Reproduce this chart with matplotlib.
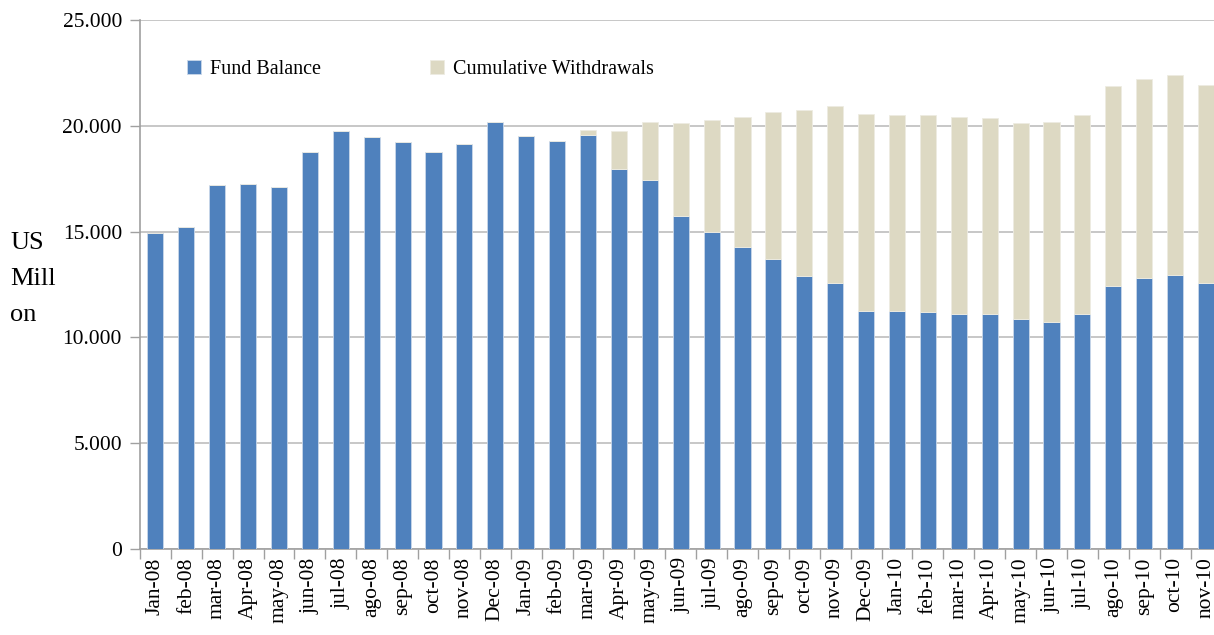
import matplotlib
matplotlib.use("Agg")
import matplotlib.pyplot as plt
import numpy as np
from matplotlib.ticker import FuncFormatter, FixedLocator

months = ["Jan-08", "feb-08", "mar-08", "Apr-08", "may-08", "jun-08", "jul-08", "ago-08",
          "sep-08", "oct-08", "nov-08", "Dec-08", "Jan-09", "feb-09", "mar-09", "Apr-09",
          "may-09", "jun-09", "jul-09", "ago-09", "sep-09", "oct-09", "nov-09", "Dec-09",
          "Jan-10", "feb-10", "mar-10", "Apr-10", "may-10", "jun-10", "jul-10", "ago-10",
          "sep-10", "oct-10", "nov-10"]

fund_balance = [14950, 15200, 17200, 17260, 17110, 18780, 19750, 19460,
                19230, 18780, 19140, 20190, 19500, 19300, 19580, 17960,
                17440, 15750, 15000, 14250, 13690, 12890, 12590, 11250,
                11250, 11180, 11100, 11100, 10890, 10740, 11100, 12440,
                12810, 12950, 12590]

totals = [14950, 15200, 17200, 17260, 17110, 18780, 19750, 19460,
          19230, 18780, 19140, 20190, 19500, 19300, 19820, 19740,
          20190, 20130, 20270, 20420, 20650, 20730, 20950, 20570,
          20500, 20500, 20420, 20350, 20130, 20190, 20500, 21870,
          22230, 22390, 21940]

cum_withdrawals = [t - f for t, f in zip(totals, fund_balance)]

plt.rcParams['font.family'] = ['Liberation Serif', 'DejaVu Serif']

fig = plt.figure(figsize=(12.14, 6.35), dpi=100)
ax = fig.add_axes([140/1214, 86/635, (1214-140)/1214, 529/635])

x = np.arange(len(months))
blue = "#4F81BD"
beige = "#DDD9C3"
ax.bar(x, fund_balance, width=0.52, color=blue, edgecolor="#C9D7EA", linewidth=0.6,
       label="Fund Balance", zorder=3)
ax.bar(x, cum_withdrawals, width=0.52, bottom=fund_balance, color=beige,
       edgecolor="#EEECE2", linewidth=0.6, label="Cumulative Withdrawals", zorder=3)

ax.set_ylim(0, 25000)
ax.set_xlim(-0.5, 34.26)
ax.set_yticks(np.arange(0, 25001, 5000))
ax.yaxis.set_major_formatter(FuncFormatter(lambda v, p: "0" if v == 0 else f"{int(v):,}".replace(",", ".")))
ax.grid(axis="y", color="#BEBEBE", linewidth=1.2, zorder=0)
ax.set_axisbelow(True)

ax.set_xticks(x)
ax.set_xticklabels(months, rotation=90, fontsize=15.5)
ax.tick_params(axis="x", which="major", length=0, pad=6)
ax.xaxis.set_minor_locator(FixedLocator(np.arange(-0.5, 35, 1)))
ax.tick_params(axis="x", which="minor", length=7, color="#A0A0A0", width=1)
ax.tick_params(axis="y", length=7, color="#A0A0A0", width=1, labelsize=15.5, pad=6)

for s in ["top", "right"]:
    ax.spines[s].set_visible(False)
ax.spines["left"].set_color("#A0A0A0")
ax.spines["bottom"].set_color("#A0A0A0")
ax.spines["left"].set_linewidth(1.2)
ax.spines["bottom"].set_linewidth(1.2)

fig.text(10/1214, 1 - 279/635, "US\nMill\non", fontsize=19, ha="left", va="center",
         linespacing=1.85)

leg = ax.legend(loc="upper left", bbox_to_anchor=(0.027, 0.958), ncol=2, frameon=False,
                fontsize=14.5, handlelength=0.7, handleheight=0.7, handletextpad=0.45,
                columnspacing=5.4)

fig.savefig("out.png", dpi=100)
